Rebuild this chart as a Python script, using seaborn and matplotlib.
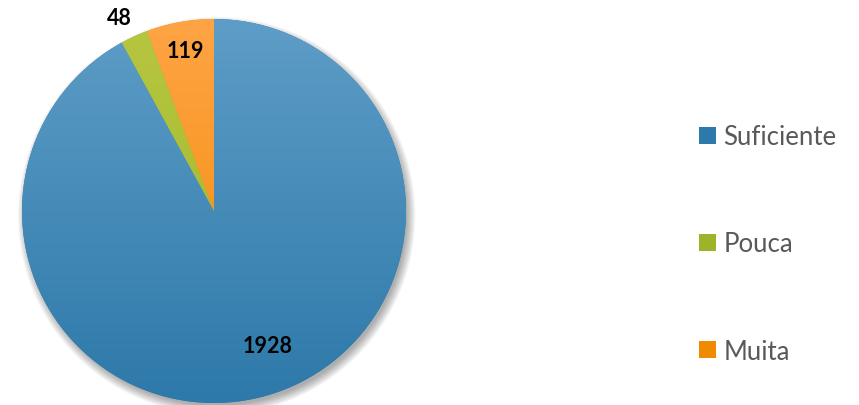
import matplotlib
matplotlib.use("Agg")
import matplotlib.pyplot as plt
import seaborn as sns
import numpy as np
from matplotlib.patches import Circle, Patch
from matplotlib.colors import LinearSegmentedColormap

categories = ["Suficiente", "Pouca", "Muita"]
counts = [1928, 48, 119]
top_colors = ["#5E9DC7", "#B7C640", "#FFA445"]
bottom_colors = ["#2D79A9", "#9CB42A", "#F08A00"]

# label placement (radius fraction, angular nudge in degrees)
label_dist = [0.755, 1.12, 0.85]
label_nudge = [7.5, 1.5, 0.0]

sns.set_theme(style="white")
plt.rcParams["font.family"] = ["Lato", "DejaVu Sans"]

fig = plt.figure(figsize=(8.59, 4.06), dpi=100)
ax = fig.add_axes([22 / 859, 2 / 406, 384 / 859, 384 / 406])

# soft drop shadow behind the pie
for i in range(10):
    ax.add_patch(Circle((0.014, -0.024), 0.99 + i * 0.005, color="black",
                        alpha=0.035, lw=0, zorder=0, clip_on=False))

wedges, _ = ax.pie(counts, startangle=90, counterclock=False, radius=1.0,
                   colors=bottom_colors, wedgeprops=dict(linewidth=0, zorder=1))

for w, c_top, c_bot in zip(wedges, top_colors, bottom_colors):
    cmap = LinearSegmentedColormap.from_list("g", [c_bot, c_top])
    grad = np.linspace(0, 1, 256).reshape(-1, 1)
    im = ax.imshow(grad, cmap=cmap, extent=(-1, 1, -1, 1), origin="lower",
                   aspect="auto", zorder=2, interpolation="bicubic")
    im.set_clip_path(w)

for w, n, d, nudge in zip(wedges, counts, label_dist, label_nudge):
    ang = np.deg2rad((w.theta1 + w.theta2) / 2 + nudge)
    ax.text(d * np.cos(ang), d * np.sin(ang), str(n), ha="center", va="center",
            fontsize=15.5, fontweight="bold", color="black", zorder=5)

ax.set_xlim(-1, 1)
ax.set_ylim(-1, 1)
ax.set_aspect("equal")
ax.axis("off")

handles = [Patch(facecolor=c, edgecolor="none", label=lab)
           for c, lab in zip(bottom_colors, categories)]
fig.legend(handles=handles, loc="center left", bbox_to_anchor=(699 / 859, 161 / 406),
           frameon=False, fontsize=18.5, labelcolor="#595959", handlelength=0.65,
           handleheight=0.65, handletextpad=0.3, labelspacing=3.2,
           borderpad=0, borderaxespad=0)

fig.savefig("out.png", dpi=100)
